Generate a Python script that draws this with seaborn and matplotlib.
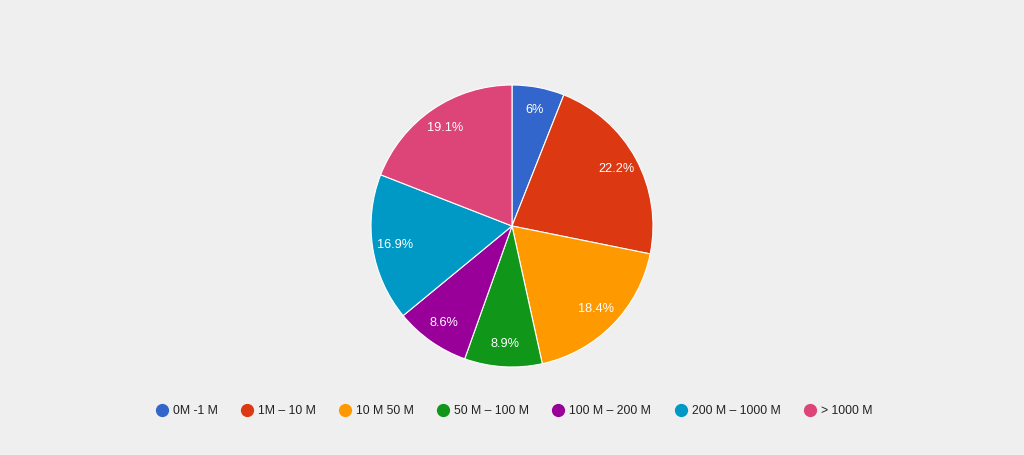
import matplotlib
matplotlib.use("Agg")
import matplotlib.pyplot as plt
from matplotlib.lines import Line2D
import numpy as np
import seaborn as sns

labels = ["0M -1 M", "1M – 10 M", "10 M 50 M", "50 M – 100 M",
          "100 M – 200 M", "200 M – 1000 M", "> 1000 M"]
shares = [6, 22.2, 18.4, 8.9, 8.6, 16.9, 19.1]
pct_text = ["6%", "22.2%", "18.4%", "8.9%", "8.6%", "16.9%", "19.1%"]
colors = ["#3366cc", "#dc3912", "#ff9900", "#109618",
          "#990099", "#0099c6", "#dd4477"]

sns.set_theme(style="white")
plt.rcParams["font.family"] = ["Liberation Sans", "DejaVu Sans"]
bg = "#efefef"
palette = sns.color_palette(colors)

fig = plt.figure(figsize=(10.24, 4.55), dpi=100, facecolor=bg)
# pie centre ~ (512, 226) px, radius ~ 141 px
ax = fig.add_axes([(512 - 141) / 1024, (229 - 141) / 455, 282 / 1024, 282 / 455])
ax.set_facecolor(bg)

wedges, _ = ax.pie(shares, colors=palette, startangle=90, counterclock=False,
                   wedgeprops=dict(edgecolor="white", linewidth=0.8))

# percentage labels inside each wedge
for w, txt in zip(wedges, pct_text):
    mid = np.deg2rad((w.theta1 + w.theta2) / 2)
    r = 0.84
    ax.text(r * np.cos(mid), r * np.sin(mid), txt, ha="center", va="center",
            color="white", fontsize=9.2)

ax.set_xlim(-1, 1)
ax.set_ylim(-1, 1)
ax.set_aspect("equal")
ax.axis("off")

handles = [Line2D([0], [0], marker="o", linestyle="", markersize=8.5,
                  markerfacecolor=c, markeredgecolor=c) for c in palette]
fig.legend(handles, labels, loc="center", bbox_to_anchor=(0.5, 0.097),
           ncol=7, frameon=False, fontsize=8.8, handletextpad=0.1,
           handlelength=1.6, columnspacing=1.6, labelcolor="#222222")

fig.savefig("out.png", dpi=100, facecolor=bg)
